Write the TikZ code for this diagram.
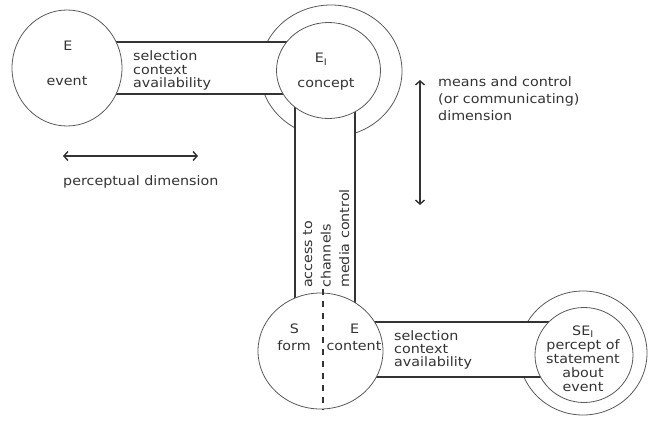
\documentclass[tikz,border=0pt]{standalone}
\usepackage{fontspec}
\setmainfont[FakeStretch=1.1]{DejaVu Sans}
\usetikzlibrary{arrows.meta}

\begin{document}
\begin{tikzpicture}[x=1pt,y=-1pt,
    every node/.style={text=black!80, inner sep=0pt, font=\fontsize{13}{13.3}\selectfont},
    ring/.style={draw=black!65, line width=0.8pt, fill=white},
    band/.style={draw=black!80, line width=1.6pt},
    dimarrow/.style={draw=black!80, line width=1.4pt, {Straight Barb[length=4pt,width=9pt]}-{Straight Barb[length=4pt,width=9pt]}}]
    \useasboundingbox (0,0) rectangle (648,423);

    % Outer rings, partly hidden by the bands
    \draw[ring] (331,71) ellipse [x radius=71, y radius=66];
    \draw[ring] (583,353) ellipse [x radius=64, y radius=62];

    % Bands between the rings
    \fill[white] (67,42) rectangle (329,94);
    \draw[band] (67,42) -- (329,42) (67,94) -- (329,94);
    \fill[white] (295,71) rectangle (355,351);
    \draw[band] (295,71) -- (295,351) (355,71) -- (355,351);
    \fill[white] (320,322) rectangle (584,377);
    \draw[band] (320,322) -- (584,322) (320,377) -- (584,377);

    % Inner rings
    \draw[ring] (67,68) ellipse [x radius=55, y radius=58];
    \draw[ring] (328.5,70.5) ellipse [x radius=52, y radius=48];
    \draw[ring] (320.5,351) ellipse [x radius=62.5, y radius=58];
    \draw[ring] (584,355) ellipse [x radius=49, y radius=47.5];

    % Split between form and content
    \draw[black!80, line width=1.4pt, dash pattern=on 6pt off 6pt] (323,289) -- (323,410);

    % Labels in the rings
    \node[anchor=base] (evsym) at (68,50) {E};
    \node[anchor=base] (evname) at (67,85) {event};
    \node[anchor=base] (cosym) at (321,62.7) {E\textsubscript{I}};
    \node[anchor=base] (coname) at (326,87.3) {concept};
    \node[anchor=base] (fosym) at (294.5,333.3) {S};
    \node[anchor=base] (foname) at (294,350) {form};
    \node[anchor=base] (ctsym) at (354.7,333) {E};
    \node[anchor=base] (ctname) at (354,350) {content};
    \node[anchor=base, align=center, font=\fontsize{13}{14.2}\selectfont] (percept) at (583,391.8)
        {SE\textsubscript{I}\\percept of\\statement\\about\\event};

    % Labels in the bands
    \node[anchor=base west, align=left] (selA) at (133,87.3) {selection\\context\\availability};
    \node[anchor=base west, align=left] (selB) at (394,366.6) {selection\\context\\availability};
    \node[anchor=base west, align=left, rotate=90, font=\fontsize{13}{18.5}\selectfont] (access) at (349,288)
        {access to\\channels\\media control};

    % Dimensions
    \coordinate (pl) at (63,156);
    \coordinate (pr) at (198,156);
    \draw[dimarrow] (pl) -- (pr);
    \node[anchor=base west] (perc) at (63,185) {perceptual dimension};
    \coordinate (mt) at (420,80);
    \coordinate (mb) at (420,205);
    \draw[dimarrow] (mt) -- (mb);
    \node[anchor=base west, align=left, font=\fontsize{13}{17.3}\selectfont] (means) at (438,120.6)
        {means and control\\(or communicating)\\dimension};
\end{tikzpicture}
\end{document}
